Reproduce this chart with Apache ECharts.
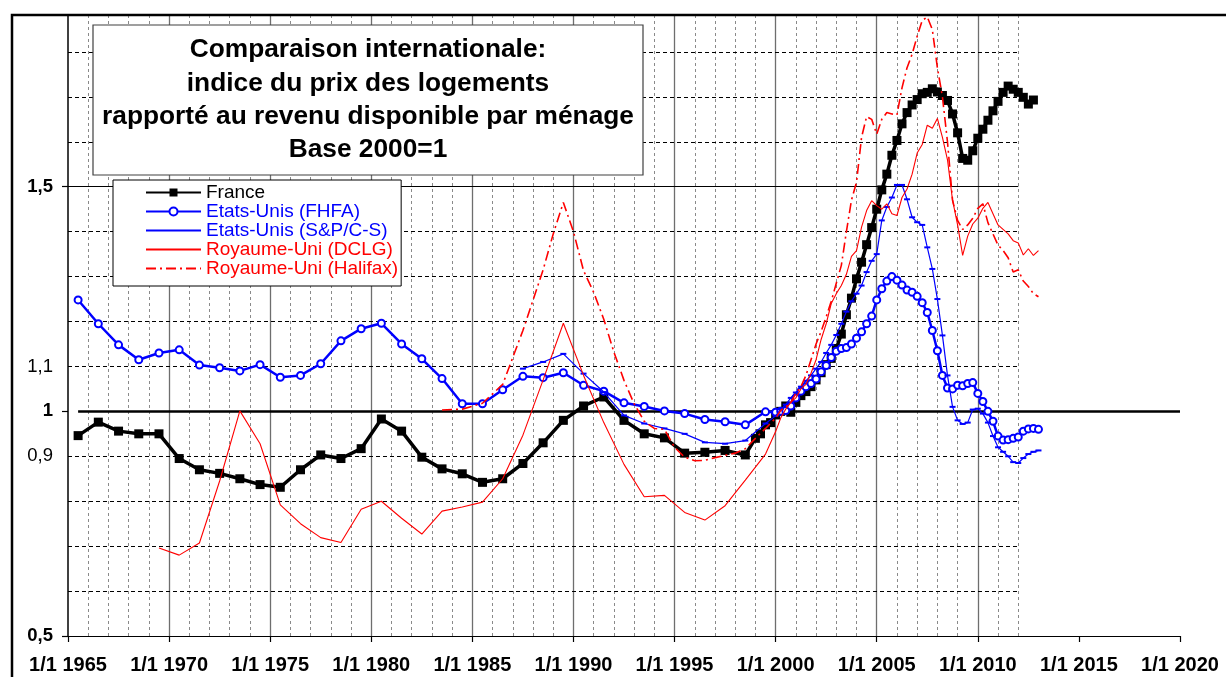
<!DOCTYPE html>
<html><head><meta charset="utf-8">
<script src="https://cdn.jsdelivr.net/npm/echarts@6/dist/echarts.min.js"></script>
<style>html,body{margin:0;padding:0;background:#fff}#c{width:1226px;height:677px}</style>
</head><body><div id="c"></div><script>
const FONT = '"Liberation Sans", Arial, Helvetica, sans-serif';

const titleLines = ['Comparaison internationale:', 'indice du prix des logements', 'rapporté au revenu disponible par ménage', 'Base 2000=1'];
const seriesNames = ['France', 'Etats-Unis (FHFA)', 'Etats-Unis (S&P/C-S)', 'Royaume-Uni (DCLG)', 'Royaume-Uni (Halifax)'];

const xMin = 1965, xMax = 2020, xStep = 5;
const yMin = 0.5, yMax = 1.88;
const yLabelValues = [0.5, 0.9, 1, 1.1, 1.5];
const yBoldValues = [0.5, 1, 1.5];
const yTickValues = [0.5, 1, 1.5];
const yDashedGrid = [0.6, 0.7, 0.8, 0.9, 1.1, 1.2, 1.3, 1.4, 1.6, 1.7, 1.8];
const gridEndYear = 2012;

// France: annual (mid-year) 1965-1998, then quarterly 1999Q1-2012Q4
const franceAnnualStart = 1965.5;
const franceAnnual = [0.946,0.976,0.956,0.950,0.950,0.895,0.870,0.862,0.850,0.837,0.831,0.870,0.903,0.895,0.917,0.983,0.956,0.898,0.872,0.861,0.842,0.850,0.884,0.930,0.980,1.012,1.032,0.980,0.950,0.941,0.907,0.909,0.913,0.903];
const franceQuarterStart = 1999.0;
const franceQuarterly = [0.940,0.950,0.970,0.975, 0.992,1.000,1.012,0.998, 1.020,1.035,1.044,1.055, 1.070,1.086,1.104,1.118, 1.140,1.172,1.215,1.252, 1.295,1.332,1.371,1.409, 1.450,1.493,1.528,1.570, 1.603,1.640,1.665,1.682, 1.694,1.707,1.710,1.718, 1.711,1.703,1.692,1.662, 1.620,1.563,1.559,1.580, 1.608,1.628,1.648,1.669, 1.690,1.710,1.724,1.717, 1.710,1.699,1.684,1.693];

// Etats-Unis FHFA
const fhfaAnnualStart = 1965.5;
const fhfaAnnual = [1.248,1.195,1.148,1.115,1.130,1.137,1.103,1.097,1.090,1.104,1.076,1.080,1.106,1.157,1.184,1.196,1.150,1.117,1.073,1.017,1.017,1.048,1.078,1.075,1.086,1.058,1.045,1.019,1.011,1.001,0.995,0.982,0.977,0.970,0.999];
const fhfaQuarterStart = 2000.0;
const fhfaQuarterly = [0.998,1.000,1.002,1.012, 1.030,1.045,1.055,1.062, 1.072,1.088,1.102,1.120, 1.134,1.140,1.142,1.150, 1.163,1.177,1.195,1.212, 1.248,1.273,1.290,1.300, 1.292,1.281,1.270,1.265, 1.256,1.242,1.220,1.180, 1.135,1.080,1.052,1.050, 1.058,1.057,1.062,1.064, 1.040,1.022,1.000,0.978, 0.945,0.936,0.937,0.940, 0.943,0.956,0.961,0.962, 0.960];

// Etats-Unis S&P / Case-Shiller
const spAnnualStart = 1987.5;
const spAnnual = [1.095,1.110,1.128,1.084,1.043,0.991,0.973,0.962,0.950,0.931,0.928,0.935,0.973];
const spQuarterStart = 2000.0;
const spQuarterly = [0.990,1.005,1.015,1.030, 1.042,1.055,1.068,1.080, 1.095,1.110,1.130,1.148, 1.170,1.195,1.222,1.245, 1.262,1.280,1.310,1.335, 1.350,1.425,1.455,1.476, 1.504,1.504,1.472,1.432, 1.421,1.415,1.365,1.317, 1.250,1.169,1.080,1.010, 0.980,0.972,0.975,1.004, 1.006,0.995,0.975,0.945, 0.920,0.910,0.900,0.887, 0.885,0.896,0.905,0.910, 0.913];

// Royaume-Uni DCLG
const dclgAnnualStart = 1969.5;
const dclgAnnual = [0.696,0.680,0.707,0.845,1.001,0.928,0.792,0.750,0.719,0.708,0.782,0.800,0.762,0.727,0.778,0.787,0.798,0.850,0.947,1.070,1.196,1.080,0.975,0.882,0.810,0.813,0.775,0.758,0.790,0.847,0.905];
const dclgQuarterStart = 2000.0;
const dclgQuarterly = [0.955,0.985,1.005,1.020, 1.030,1.050,1.060,1.085, 1.115,1.160,1.195,1.240, 1.262,1.280,1.305,1.345, 1.358,1.410,1.447,1.469, 1.458,1.450,1.462,1.440, 1.436,1.476,1.495,1.528, 1.575,1.594,1.637,1.630, 1.652,1.610,1.560,1.470, 1.415,1.347,1.390,1.417, 1.430,1.452,1.465,1.440, 1.415,1.405,1.395,1.380, 1.375,1.348,1.362,1.347, 1.358];

// Royaume-Uni Halifax: 1983.5-1999.5 readings, then quarterly
const halifaxEarlyYears = [1983.5,1984.5,1985.5,1986.5,1987.5,1988.5,1989.0,1989.5,1990.0,1990.5,1991.0,1991.5,1992.0,1992.5,1993.0,1993.5,1994.0,1994.5,1995.0,1995.5,1996.0,1996.5,1997.0,1997.5,1998.0,1998.5,1999.0,1999.5];
const halifaxEarly = [1.003,1.005,1.018,1.060,1.180,1.315,1.395,1.465,1.400,1.313,1.265,1.205,1.132,1.069,1.017,0.978,0.962,0.960,0.920,0.898,0.890,0.891,0.897,0.902,0.907,0.917,0.940,0.962];
const halifaxQuarterStart = 2000.0;
const halifaxQuarterly = [0.985,1.002,1.010,1.020, 1.040,1.055,1.080,1.115, 1.150,1.178,1.210,1.245, 1.285,1.325,1.400,1.470, 1.510,1.610,1.656,1.650, 1.617,1.650,1.665,1.662, 1.660,1.720,1.765,1.795, 1.835,1.870,1.878,1.850, 1.765,1.700,1.600,1.470, 1.425,1.405,1.415,1.430, 1.452,1.462,1.420,1.395, 1.370,1.358,1.342,1.310, 1.315,1.290,1.278,1.262, 1.255];

function joinSeries(aStart, annual, qStart, quarterly) {
  const out = [];
  annual.forEach((v, i) => out.push([aStart + i, v]));
  quarterly.forEach((v, i) => out.push([qStart + i * 0.25, v]));
  return out;
}
const franceData = joinSeries(franceAnnualStart, franceAnnual, franceQuarterStart, franceQuarterly);
const fhfaData = joinSeries(fhfaAnnualStart, fhfaAnnual, fhfaQuarterStart, fhfaQuarterly);
const spData = joinSeries(spAnnualStart, spAnnual, spQuarterStart, spQuarterly);
const dclgData = joinSeries(dclgAnnualStart, dclgAnnual, dclgQuarterStart, dclgQuarterly);
const halifaxData = halifaxEarlyYears.map((y, i) => [y, halifaxEarly[i]])
  .concat(halifaxQuarterly.map((v, i) => [halifaxQuarterStart + i * 0.25, v]));

const BLUE = '#0000ff', RED = '#ff0000';
const legendColors = ['#000000', BLUE, BLUE, RED, RED];
const hiddenMarker = {color: 'rgba(0,0,0,0)', borderColor: 'rgba(0,0,0,0)', borderWidth: 0, opacity: 0};
const legendMarker = [null, null, hiddenMarker, hiddenMarker, hiddenMarker];

// grid lines (Excel style) drawn through the axes
const vDashYears = [], vSolidYears = [];
for (let y = xMin + 1; y <= gridEndYear; y++) { if (y % 5 === 0) vSolidYears.push(y); else vDashYears.push(y); }

function hLines(vals, x0, x1) { return vals.map(v => [{coord: [x0, v]}, {coord: [x1, v]}]); }
function vLines(years) { return years.map(y => [{coord: [y, yMin]}, {coord: [y, yMax]}]); }
function helper(lines, style) {
  return {type: 'line', data: [], silent: true, z: 1,
    markLine: {silent: true, symbol: ['none', 'none'], z: 1, animation: false,
      label: {show: false}, emphasis: {disabled: true}, lineStyle: style, data: lines}};
}

const option = {
  animation: false,
  backgroundColor: '#ffffff',
  textStyle: {fontFamily: FONT},
  grid: {left: 68, right: 46, top: 16, bottom: 41, containLabel: false},
  xAxis: {
    type: 'value', min: xMin, max: xMax, interval: xStep,
    axisLine: {show: true, onZero: false, lineStyle: {color: '#000', width: 1.2}},
    axisTick: {show: true, length: 6, lineStyle: {color: '#000', width: 1.2}},
    axisLabel: {formatter: v => '1/1 ' + v, fontFamily: FONT, fontWeight: 'bold', fontSize: 20, color: '#000', margin: 19},
    splitLine: {show: false}
  },
  yAxis: {
    type: 'value', min: yMin, max: yMax,
    axisLine: {show: true, onZero: false, lineStyle: {color: '#000', width: 1.5}},
    axisTick: {show: true, length: 6, customValues: yTickValues, lineStyle: {color: '#000', width: 1.2}},
    axisLabel: {
      customValues: yLabelValues, margin: 15, color: '#000',
      formatter: v => { const s = String(+v.toFixed(2)).replace('.', ','); return yBoldValues.some(b => Math.abs(b - v) < 1e-9) ? '{b|' + s + '}' : '{n|' + s + '}'; },
      rich: {b: {fontFamily: FONT, fontWeight: 'bold', fontSize: 18.5, color: '#000'}, n: {fontFamily: FONT, fontSize: 18.5, color: '#000'}}
    },
    splitLine: {show: false}
  },
  legend: {
    left: 113, top: 180, orient: 'vertical', itemWidth: 55, itemHeight: 10, itemGap: 0,
    padding: [3, 3, 8, 32], backgroundColor: '#ffffff', borderColor: '#000', borderWidth: 1,
    selectedMode: false, z: 20,
    textStyle: {fontFamily: FONT, fontSize: 19, lineHeight: 19},
    data: seriesNames.map((n, i) => {
      const d = {name: n, textStyle: {color: legendColors[i]}};
      if (legendMarker[i]) d.itemStyle = legendMarker[i];
      return d;
    })
  },
  graphic: [
    {type: 'rect', z: 50, silent: true, shape: {x: 12, y: 15, width: 1400, height: 900}, style: {fill: 'none', stroke: '#000', lineWidth: 2.5}},
    {type: 'rect', z: 50, silent: true, shape: {x: 93, y: 25, width: 550, height: 150}, style: {fill: '#fff', stroke: '#404040', lineWidth: 1.2}},
    {type: 'text', z: 51, silent: true, x: 368, y: 100,
      style: {text: titleLines.join('\n'), font: 'bold 26.3px ' + FONT, fill: '#000', align: 'center', verticalAlign: 'middle', lineHeight: 33.4}}
  ],
  series: [
    helper(vLines(vDashYears), {color: '#8a8a8a', type: [3, 3], width: 1}),
    helper(vLines(vSolidYears), {color: '#6e6e6e', type: 'solid', width: 1.3}),
    helper(hLines(yDashedGrid, xMin, gridEndYear), {color: '#000', type: [4, 3], width: 1}),
    helper(hLines([1.5], xMin, gridEndYear), {color: '#000', type: 'solid', width: 1}),
    helper(hLines([1], 1965.5, xMax), {color: '#000', type: 'solid', width: 2.5}),
    {name: seriesNames[0], type: 'line', data: franceData, symbol: 'rect', symbolSize: 9, showAllSymbol: true, z: 3,
      lineStyle: {color: '#000', width: 3.5}, itemStyle: {color: '#000'}},
    {name: seriesNames[1], type: 'line', data: fhfaData, symbol: 'emptyCircle', symbolSize: 7, showAllSymbol: true, z: 4,
      lineStyle: {color: BLUE, width: 2.5}, itemStyle: {color: BLUE, borderWidth: 1.4}},
    {name: seriesNames[2], type: 'line', data: spData, symbol: 'rect', symbolSize: [6, 2], showAllSymbol: true, z: 5,
      lineStyle: {color: BLUE, width: 1.2}, itemStyle: {color: BLUE}},
    {name: seriesNames[3], type: 'line', data: dclgData, symbol: 'none', z: 6,
      lineStyle: {color: RED, width: 1.1}, itemStyle: {color: RED}},
    {name: seriesNames[4], type: 'line', data: halifaxData, symbol: 'none', z: 7,
      lineStyle: {color: RED, width: 1.6, type: [10, 4, 2, 4]}, itemStyle: {color: RED}}
  ]
};
const chart = echarts.init(document.getElementById('c'), null, {renderer: 'canvas'});
chart.setOption(option);
</script></body></html>
